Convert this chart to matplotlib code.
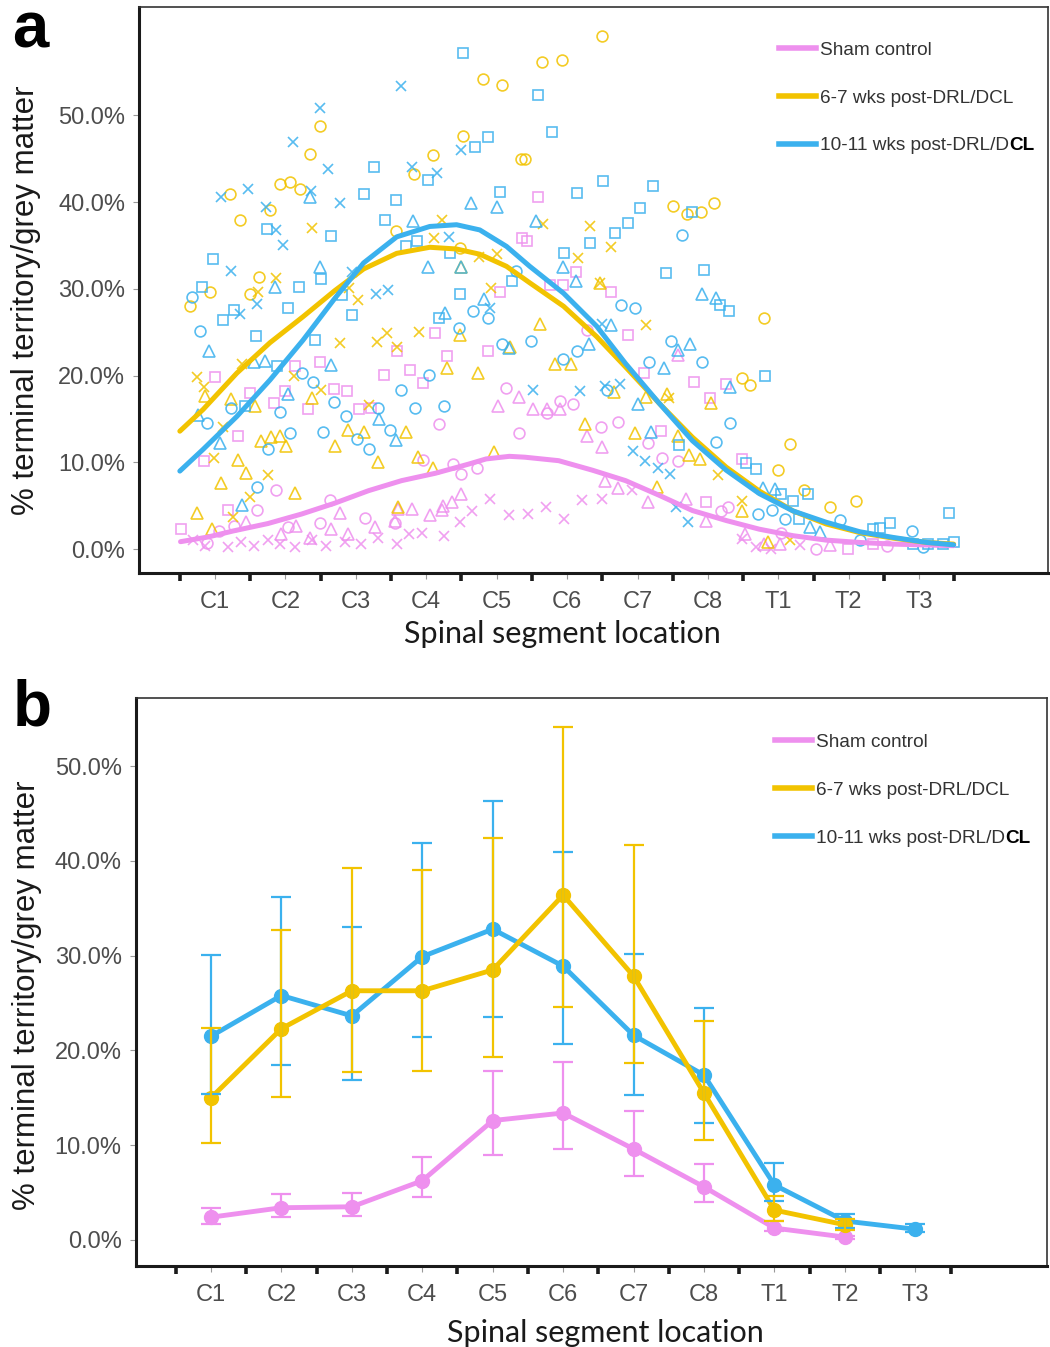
import numpy as np
import matplotlib.pyplot as plt
from matplotlib.lines import Line2D

plt.rcParams['font.family'] = ['Liberation Sans', 'DejaVu Sans']

segments = ["C1", "C2", "C3", "C4", "C5", "C6", "C7", "C8", "T1", "T2", "T3"]
seg_pos = np.arange(1, len(segments) + 1)
groups = ["Sham control", "6-7 wks post-DRL/DCL", "10-11 wks post-DRL/DCL"]
line_colors = ["#EE90EE", "#F2C300", "#3BB1EE"]
y_ticks = [0, 10, 20, 30, 40, 50]

# ---- panel a: smoothed curves ----
curve_x = [0.50, 0.83, 1.31, 1.78, 2.25, 2.70, 3.11, 3.58, 4.05, 4.43, 4.76, 5.14, 5.47,
           5.95, 6.42, 6.83, 7.31, 7.78, 8.26, 8.73, 9.21, 9.68, 10.16, 10.63, 11.11, 11.49]
curve_blue = [9.0, 11.5, 15.3, 19.5, 24.1, 28.9, 33.0, 36.0, 37.2, 37.4, 36.8, 34.9, 32.6,
              29.5, 25.7, 21.4, 16.8, 12.5, 9.1, 6.4, 4.4, 3.1, 2.0, 1.35, 0.77, 0.5]
curve_gold = [13.6, 16.1, 20.3, 23.8, 26.8, 29.8, 32.3, 34.1, 34.8, 34.6, 34.0, 32.6, 30.7,
              28.0, 24.5, 21.0, 16.8, 12.9, 9.45, 6.7, 4.4, 2.9, 1.9, 1.27, 0.77, 0.58]
curve_sham_x = [0.51, 0.90, 1.26, 1.75, 2.23, 2.70, 3.18, 3.65, 4.13, 4.60, 4.85, 5.18, 5.40,
                5.88, 6.36, 6.83, 7.31, 7.78, 8.26, 8.73, 9.21, 9.68, 10.16, 10.63, 11.49]
curve_sham = [0.86, 1.4, 2.1, 2.95, 4.05, 5.3, 6.74, 7.9, 8.75, 9.8, 10.4, 10.7, 10.6,
              10.2, 9.1, 7.9, 6.2, 4.45, 3.3, 2.3, 1.55, 1.04, 0.77, 0.58, 0.4]

# ---- panel a: individual measurements (x = segment, y = %) ----
blue_sq = [(4.52, 57.2), (3.26, 44.1), (4.69, 46.4), (4.88, 47.5), (4.02, 42.5), (3.11, 40.9),
           (3.57, 40.2), (5.05, 41.2), (1.74, 36.9), (2.65, 36.1), (3.41, 38.0), (3.71, 35.0),
           (3.87, 35.5), (4.34, 34.1), (0.97, 33.4), (2.50, 31.1), (2.19, 30.2), (0.81, 30.2),
           (5.22, 30.9), (4.48, 29.4), (1.12, 26.4), (1.27, 27.6), (1.58, 24.6), (1.43, 16.5),
           (2.04, 27.8), (1.88, 21.1), (2.42, 24.1), (2.81, 29.3), (2.94, 27.0), (4.18, 26.6),
           (5.59, 52.4), (5.78, 48.1), (6.14, 41.0), (6.51, 42.4), (7.22, 41.9), (7.04, 39.3),
           (6.86, 37.6), (6.68, 36.4), (6.32, 35.3), (5.96, 34.1), (7.77, 38.9), (7.40, 31.8),
           (7.95, 32.2), (8.30, 27.5), (8.17, 28.2), (8.81, 20.0), (7.59, 12.0), (8.54, 9.9),
           (8.68, 9.2), (9.42, 6.4), (10.58, 3.0), (11.43, 4.2), (11.49, 0.8), (9.04, 6.4),
           (9.21, 5.5), (9.30, 3.5), (10.35, 2.3), (10.45, 2.4), (10.91, 0.6), (11.13, 0.6),
           (11.34, 0.6)]
blue_x = [(3.64, 53.4), (2.49, 50.8), (2.11, 46.9), (2.61, 43.8), (4.49, 46.0), (3.80, 44.0),
          (4.15, 43.4), (1.09, 40.6), (1.47, 41.5), (2.36, 41.3), (2.77, 39.9), (1.73, 39.4),
          (1.86, 36.8), (1.97, 35.1), (4.32, 36.0), (1.22, 32.1), (2.94, 32.0), (3.29, 29.4),
          (3.46, 29.9), (1.35, 27.1), (1.60, 28.3), (4.90, 27.8), (6.49, 25.9), (5.52, 18.3),
          (6.19, 18.2), (6.54, 18.8), (6.75, 19.0), (6.94, 11.3), (7.11, 10.2), (7.29, 9.4),
          (7.46, 8.7), (7.55, 4.9), (7.72, 3.1)]
blue_tri = [(2.35, 40.6), (4.64, 39.9), (5.01, 39.5), (3.81, 37.8), (2.49, 32.5), (4.02, 32.5),
            (4.49, 32.5), (1.85, 30.2), (0.92, 22.8), (0.76, 15.5), (1.56, 21.6), (1.71, 21.7),
            (1.07, 12.2), (1.38, 5.1), (2.03, 17.9), (2.65, 21.2), (3.33, 15.0), (3.57, 12.6),
            (4.26, 27.2), (4.82, 28.8), (5.17, 23.2), (5.56, 37.8), (5.94, 32.5), (6.12, 30.9),
            (7.92, 29.4), (8.11, 28.9), (6.63, 25.8), (6.31, 23.7), (7.75, 23.6), (7.57, 23.0),
            (7.38, 20.9), (7.01, 16.7), (8.31, 18.7), (7.19, 13.5), (8.78, 7.1), (8.95, 6.9),
            (9.45, 2.5), (9.59, 2.0)]
blue_o = [(0.67, 29.1), (0.78, 25.1), (0.89, 14.5), (1.23, 16.3), (1.60, 7.2), (2.23, 20.3),
          (2.39, 19.3), (1.92, 15.8), (2.07, 13.4), (1.75, 11.5), (2.53, 13.5), (2.69, 17.0),
          (2.86, 15.4), (3.01, 12.7), (3.18, 11.5), (3.32, 16.3), (3.48, 13.7), (3.64, 18.4),
          (3.84, 16.3), (4.04, 20.1), (4.25, 16.5), (4.46, 25.5), (4.66, 27.5), (4.87, 26.6),
          (5.07, 23.6), (5.28, 32.1), (5.49, 24.0), (6.14, 22.9), (5.94, 21.9), (6.77, 28.2),
          (6.97, 27.8), (6.57, 18.3), (7.48, 24.0), (7.17, 21.6), (7.92, 21.6), (7.63, 36.2),
          (8.31, 14.5), (8.11, 12.3), (8.71, 4.1), (8.91, 4.5), (9.10, 3.5), (9.87, 3.4),
          (10.90, 2.1), (11.06, 0.2), (10.16, 1.1)]

gold_o = [(4.80, 54.2), (5.08, 53.5), (2.49, 48.8), (2.35, 45.6), (4.52, 47.6), (4.09, 45.4),
          (3.83, 43.3), (5.34, 45.0), (1.21, 40.9), (1.92, 42.1), (2.07, 42.3), (2.21, 41.5),
          (1.35, 38.0), (1.78, 39.1), (3.57, 36.7), (4.48, 34.7), (1.63, 31.4), (1.49, 29.4),
          (0.93, 29.6), (0.65, 28.0), (6.49, 59.1), (5.64, 56.2), (5.93, 56.4), (5.40, 45.0),
          (7.50, 39.6), (7.70, 38.6), (7.90, 38.9), (8.09, 39.9), (8.79, 26.7), (8.49, 19.7),
          (8.60, 18.9), (9.17, 12.1), (8.99, 9.1), (9.36, 6.8), (9.73, 4.9), (10.11, 5.5)]
gold_x = [(2.37, 37.0), (4.22, 38.0), (4.11, 35.9), (4.75, 33.7), (5.01, 34.0), (1.86, 31.3),
          (1.61, 29.7), (2.90, 30.1), (4.92, 30.1), (0.75, 19.9), (0.84, 18.7), (0.99, 10.5),
          (1.38, 21.3), (1.12, 14.1), (1.50, 6.0), (1.75, 8.5), (1.25, 3.7), (2.12, 20.0),
          (2.50, 18.4), (2.77, 23.8), (3.18, 16.6), (3.30, 23.9), (3.44, 24.9), (3.58, 23.3),
          (3.89, 25.0), (3.03, 28.7), (5.66, 37.5), (6.33, 37.3), (6.62, 34.8), (6.15, 33.6),
          (6.47, 30.7), (7.12, 25.8), (7.45, 17.4), (8.15, 8.5), (8.49, 5.6), (9.17, 1.1)]
gold_tri = [(4.49, 32.5), (0.86, 17.6), (0.74, 4.2), (0.96, 2.3), (1.23, 17.3), (1.57, 16.5),
            (1.32, 10.3), (1.44, 8.8), (1.09, 7.6), (2.13, 6.5), (2.37, 17.4), (1.80, 12.9),
            (1.65, 12.5), (1.92, 13.0), (2.01, 11.9), (2.70, 11.9), (2.89, 13.7), (3.11, 13.5),
            (3.31, 10.0), (3.71, 13.5), (3.60, 4.9), (4.30, 20.9), (4.48, 24.7), (4.74, 20.3),
            (4.96, 11.2), (5.19, 23.3), (3.88, 10.6), (4.10, 9.3), (5.62, 26.0), (5.83, 21.4),
            (6.06, 21.4), (6.47, 30.7), (6.66, 18.1), (7.12, 17.5), (7.42, 17.9), (6.26, 14.4),
            (6.97, 13.4), (7.58, 13.1), (7.73, 10.9), (7.89, 10.4), (8.04, 16.8), (7.27, 7.2),
            (8.49, 4.4), (8.85, 0.8)]

sham_sq = [(5.36, 35.9), (5.58, 40.6), (5.43, 35.5), (6.12, 31.9), (5.76, 30.5), (5.94, 30.5),
           (6.63, 29.7), (1.00, 19.8), (0.84, 10.2), (0.51, 2.3), (1.50, 18.0), (1.33, 13.0),
           (1.18, 4.5), (1.84, 16.9), (1.99, 18.2), (2.13, 21.1), (2.49, 21.6), (2.69, 18.5),
           (2.87, 18.2), (2.32, 16.1), (3.05, 16.2), (3.22, 16.3), (3.58, 22.8), (3.40, 20.1),
           (3.77, 20.7), (3.95, 19.1), (4.13, 24.9), (4.30, 22.3), (4.87, 22.8), (5.05, 29.7),
           (6.87, 24.7), (7.09, 20.3), (7.80, 19.3), (8.26, 19.0), (8.03, 17.4), (7.33, 13.6),
           (8.49, 10.4), (7.97, 5.4), (9.99, 0.0), (10.35, 0.6)]
sham_o = [(0.89, 0.7), (1.59, 4.5), (1.86, 6.8), (2.63, 5.7), (3.96, 10.3), (4.18, 14.4),
          (4.49, 8.7), (4.72, 9.3), (4.38, 9.8), (5.13, 18.6), (5.31, 13.4), (6.28, 25.3),
          (5.90, 17.1), (6.09, 16.7), (5.71, 15.7), (6.48, 14.1), (6.73, 14.7), (7.15, 12.2),
          (7.35, 10.5), (7.57, 10.2), (8.18, 4.4), (8.29, 4.9), (9.04, 1.9), (9.54, 0.0),
          (10.54, 0.4), (1.06, 2.1), (1.27, 2.7), (2.04, 2.5), (2.49, 3.0), (3.13, 3.6),
          (3.55, 3.0)]
sham_tri = [(1.44, 3.1), (2.77, 4.2), (4.50, 6.4), (4.37, 5.4), (4.24, 5.0), (4.05, 3.9),
            (3.80, 4.6), (3.60, 4.6), (5.02, 16.5), (5.31, 17.5), (5.52, 16.1), (5.71, 16.2),
            (5.90, 16.1), (6.28, 13.1), (6.49, 11.8), (7.57, 22.4), (6.54, 7.9), (6.73, 7.1),
            (7.15, 5.4), (7.69, 5.8), (7.97, 3.3), (8.80, 0.6), (8.53, 1.7), (9.03, 0.6),
            (9.74, 0.5), (1.94, 1.7), (2.15, 2.7), (2.35, 1.3), (2.65, 2.3), (2.89, 1.7),
            (3.27, 2.5), (3.56, 3.3), (4.22, 4.5)]
sham_x = [(1.18, 0.2), (1.37, 0.8), (1.56, 0.4), (1.75, 1.0), (1.92, 0.6), (2.13, 0.2),
          (2.37, 1.0), (2.58, 0.4), (2.84, 0.8), (3.08, 0.6), (3.32, 1.3), (3.58, 0.6),
          (3.75, 1.7), (3.94, 1.9), (4.25, 1.5), (4.48, 3.1), (4.65, 4.4), (4.91, 5.8),
          (5.17, 3.9), (5.70, 4.9), (5.96, 3.5), (5.45, 4.1), (6.21, 5.7), (6.49, 5.8),
          (6.92, 6.8), (8.49, 1.2), (8.68, 0.2), (8.90, 0.0), (9.31, 0.5), (0.86, 0.4),
          (0.69, 1.1)]

# ---- panel b: group mean with error bar low / high ends ----
sham_mean = [2.4, 3.4, 3.5, 6.25, 12.6, 13.4, 9.6, 5.6, 1.25, 0.3]
sham_lo = [1.65, 2.4, 2.5, 4.5, 9.0, 9.6, 6.8, 4.0, 0.9, 0.15]
sham_hi = [3.4, 4.8, 5.0, 8.8, 17.85, 18.8, 13.6, 8.0, 2.0, 0.45]
gold_mean = [15.0, 22.3, 26.3, 26.3, 28.5, 36.4, 27.85, 15.5, 3.15, 1.6]
gold_lo = [10.25, 15.1, 17.7, 17.85, 19.3, 24.6, 18.7, 10.55, 2.0, 1.0]
gold_hi = [22.4, 32.7, 39.3, 39.0, 42.4, 54.1, 41.7, 23.1, 4.65, 2.2]
blue_mean = [21.5, 25.8, 23.65, 29.9, 32.8, 28.9, 21.6, 17.4, 5.8, 2.0, 1.13]
blue_lo = [15.4, 18.5, 16.9, 21.4, 23.5, 20.7, 15.35, 12.3, 4.1, 1.3, 0.8]
blue_hi = [30.1, 36.2, 33.05, 41.9, 46.3, 40.9, 30.15, 24.5, 8.1, 2.7, 1.65]


def style_axes(ax, xlim, ylim, ylab_xy, xlab_xy):
    ax.set_xlim(*xlim)
    ax.set_ylim(*ylim)
    ax.set_xticks(seg_pos)
    ax.set_xticklabels(segments)
    ax.set_xticks(np.arange(0.5, len(segments) + 1, 1), minor=True)
    ax.set_yticks(y_ticks)
    ax.set_yticklabels([f"{v:.1f}%" for v in y_ticks])
    ax.tick_params(axis='both', which='major', length=4, width=0.8, color='#999999',
                   labelsize=17, labelcolor='#4d4d4d')
    ax.tick_params(axis='x', which='major', pad=9)
    ax.tick_params(axis='y', which='major', pad=6)
    ax.tick_params(axis='x', which='minor', length=6, width=2.6, color='#1a1a1a')
    for s in ['left', 'bottom']:
        ax.spines[s].set_linewidth(2.2)
        ax.spines[s].set_color('#1a1a1a')
    for s in ['top', 'right']:
        ax.spines[s].set_linewidth(1.2)
        ax.spines[s].set_color('#333333')
    ax.set_ylabel('% terminal territory/grey matter', fontsize=22.5, color='#1a1a1a')
    ax.yaxis.set_label_coords(*ylab_xy)
    ax.set_xlabel('Spinal segment location', fontsize=22, family='Lato', color='#1a1a1a')
    ax.xaxis.set_label_coords(*xlab_xy)


def add_legend(ax, anchor):
    handles = [Line2D([], [], color=c, lw=4) for c in line_colors]
    labels = [groups[0], groups[1], groups[2][:-2]]
    leg = ax.legend(handles, labels, loc='upper left', bbox_to_anchor=anchor, frameon=False,
                    handlelength=1.95, handletextpad=0.2, labelspacing=1.6,
                    borderpad=0, borderaxespad=0, prop={'size': 13.7})
    for t in leg.get_texts():
        t.set_color('#333333')
    # the last two letters are printed bold and black in the original
    ax.annotate(groups[2][-2:], xy=(1, 0), xycoords=leg.get_texts()[2], va='bottom', ha='left',
                fontsize=13.7, fontweight='bold', color='black', zorder=6,
                annotation_clip=False)


fig = plt.figure(figsize=(10.5, 13.47), dpi=100)
W, H = 1050, 1347
ax_a = fig.add_axes([139 / W, 1 - 573 / H, (1048 - 139) / W, (573 - 7) / H])
ax_b = fig.add_axes([135.6 / W, 1 - 1266 / H, (1047 - 135.6) / W, (1266 - 698) / H])

# panel a scatter, one marker shape per animal group
scatter_sets = [
    (sham_sq, 's', 0), (sham_o, 'o', 0), (sham_tri, '^', 0), (sham_x, 'x', 0),
    (gold_o, 'o', 1), (gold_tri, '^', 1), (gold_x, 'x', 1),
    (blue_sq, 's', 2), (blue_o, 'o', 2), (blue_tri, '^', 2), (blue_x, 'x', 2),
]
marker_size = {'s': 7.5, 'o': 7.8, '^': 8.2, 'x': 7.2}
for pts, mk, gi in scatter_sets:
    arr = np.array(pts)
    ax_a.plot(arr[:, 0], arr[:, 1], linestyle='none', marker=mk, ms=marker_size[mk],
              mfc='none', mec=line_colors[gi], mew=1.2, alpha=0.85, zorder=2)

ax_a.plot(curve_sham_x, curve_sham, color=line_colors[0], lw=3.6, zorder=3,
          solid_capstyle='round', solid_joinstyle='round')
ax_a.plot(curve_x, curve_gold, color=line_colors[1], lw=3.6, zorder=3,
          solid_capstyle='round', solid_joinstyle='round')
ax_a.plot(curve_x, curve_blue, color=line_colors[2], lw=3.6, zorder=3,
          solid_capstyle='round', solid_joinstyle='round')

style_axes(ax_a, (-0.08, 12.83), (-2.75, 62.5), (-0.108, 0.482), (0.466, -0.083))
add_legend(ax_a, (0.704, 0.939))

# panel b mean +/- error
panel_b = [(sham_mean, sham_lo, sham_hi, 0), (blue_mean, blue_lo, blue_hi, 2),
           (gold_mean, gold_lo, gold_hi, 1)]
for mean, lo, hi, gi in panel_b:
    x = seg_pos[:len(mean)]
    ax_b.plot(x, mean, color=line_colors[gi], lw=3.5, marker='o', ms=10, zorder=3)
for mean, lo, hi, gi in panel_b:
    mean = np.array(mean)
    x = seg_pos[:len(mean)]
    yerr = np.vstack([mean - np.array(lo), np.array(hi) - mean])
    ax_b.errorbar(x, mean, yerr=yerr, fmt='none', ecolor=line_colors[gi], elinewidth=1.6,
                  capsize=7.5, capthick=1.6, zorder=4)

style_axes(ax_b, (-0.07, 12.87), (-2.75, 57.2), (-0.103, 0.477), (0.515, -0.094))
add_legend(ax_b, (0.7016, 0.937))

fig.text(12 / W, 1 - 48 / H, 'a', fontsize=47, fontweight='bold', va='baseline', ha='left')
fig.text(13 / W, 1 - 726 / H, 'b', fontsize=46, fontweight='bold', va='baseline', ha='left')

fig.savefig('out.png', dpi=100)
